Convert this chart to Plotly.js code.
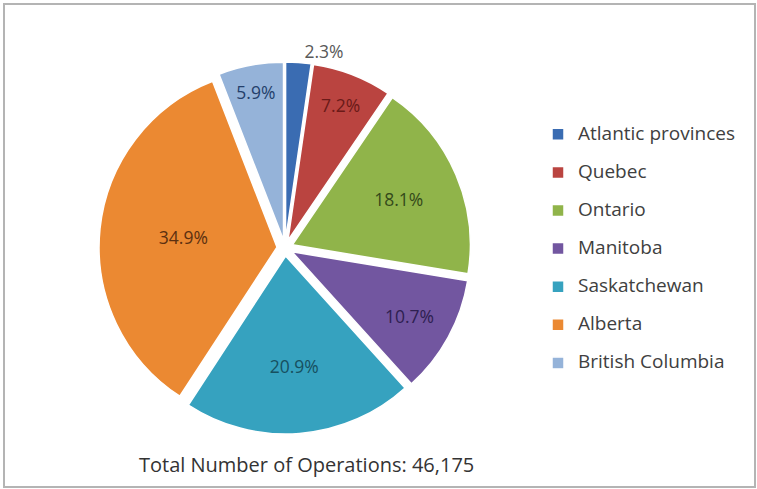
<!DOCTYPE html>
<html>
<head>
<meta charset="utf-8">
<script src="https://cdn.plot.ly/plotly-3.0.1.min.js"></script>
<style>html,body{margin:0;padding:0;background:#fff;}#chart{width:757px;height:489px;}</style>
</head>
<body>
<div id="chart"></div>
<script>
var regions = ["Atlantic provinces", "Quebec", "Ontario", "Manitoba", "Saskatchewan", "Alberta", "British Columbia"];
var sharePct = [2.3, 7.2, 18.1, 10.7, 20.9, 34.9, 5.9];
var sliceColors = ["#3A6CB2", "#BA4440", "#90B44A", "#7256A0", "#36A2BF", "#EB8932", "#95B3D9"];
var labelColors = ["#595959", "#6A1A18", "#34491A", "#2E2050", "#17505F", "#5C3010", "#243F6B"];
var labelPositions = ["outside", "inside", "inside", "inside", "inside", "inside", "inside"];
var totalOperations = 46175;

var legendLabels = regions.map(function (r) {
  return '<span style="font-size:19px">' + r + '</span><br> ';
});

var trace = {
  type: "pie",
  labels: legendLabels,
  values: sharePct,
  sort: false,
  direction: "clockwise",
  rotation: 0,
  pull: 0.045,
  marker: { colors: sliceColors, line: { color: "#ffffff", width: 1.5 } },
  texttemplate: "%{value:.1f}%",
  textposition: labelPositions,
  insidetextorientation: "horizontal",
  insidetextfont: { family: "Open Sans", size: 17.5, color: labelColors },
  outsidetextfont: { family: "Open Sans", size: 17.5, color: "#595959" },
  hoverinfo: "none",
  domain: { x: [99 / 757, 471 / 757], y: [(489 - 437) / 489, (489 - 59) / 489] }
};

var layout = {
  width: 757,
  height: 489,
  margin: { l: 0, r: 0, t: 0, b: 0 },
  paper_bgcolor: "#ffffff",
  showlegend: true,
  legend: {
    x: 538 / 757, xanchor: "left",
    y: (489 - 119) / 489, yanchor: "top",
    valign: "top",
    font: { family: "Open Sans", size: 13.5, color: "#404040" },
    bgcolor: "rgba(0,0,0,0)",
    traceorder: "normal"
  },
  annotations: [{
    xref: "paper", yref: "paper",
    x: 306 / 757, y: (489 - 464) / 489,
    xanchor: "center", yanchor: "middle",
    showarrow: false,
    text: "Total Number of Operations: " + totalOperations.toLocaleString("en-US"),
    font: { family: "Open Sans", size: 20, color: "#333333" }
  }],
  shapes: [{
    type: "rect", xref: "paper", yref: "paper",
    x0: 4 / 757, x1: 755 / 757, y0: (489 - 487) / 489, y1: (489 - 4) / 489,
    line: { color: "#B4B4B4", width: 2 }, fillcolor: "rgba(0,0,0,0)"
  }]
};

Plotly.newPlot("chart", [trace], layout, { staticPlot: true, displayModeBar: false });
</script>
</body>
</html>
